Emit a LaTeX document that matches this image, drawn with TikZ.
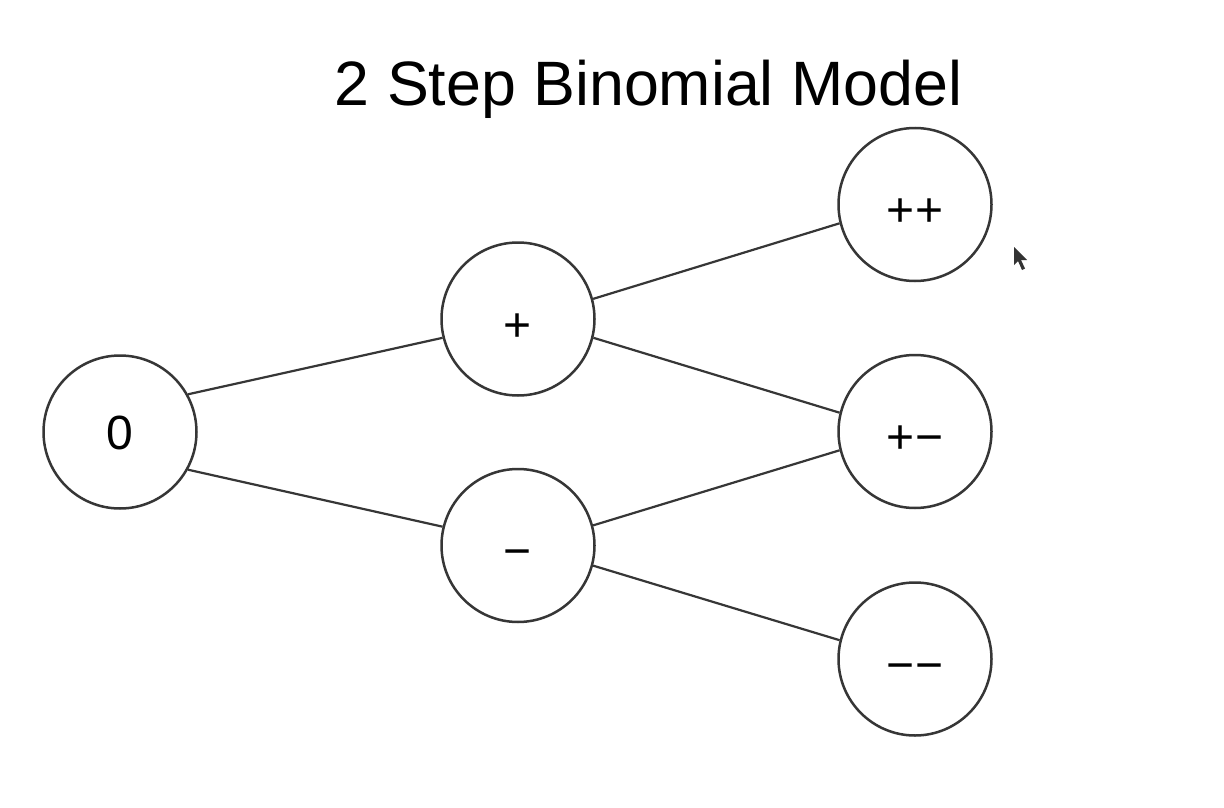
\documentclass[tikz,border=0pt]{standalone}
\usepackage{fontspec}
\setmainfont{Liberation Sans}
\definecolor{inkgray}{HTML}{363636}
\begin{document}
\begin{tikzpicture}[x=1pt,y=-1pt,
  bnode/.style={circle,draw=inkgray,line width=2.5pt,minimum size=153pt,inner sep=0pt,
    font=\fontsize{48}{48}\selectfont,text depth=0pt,text height=44pt},
  digitnode/.style={bnode,text height=34.4pt},
  branch/.style={draw=inkgray,line width=2.2pt}]
  \useasboundingbox (0,0) rectangle (1224,808);
  \fill[white] (0,0) rectangle (1224,808);

  % title
  \node[font=\fontsize{62.7}{62.7}\selectfont,anchor=base] (title) at (648.5,105) {2 Step Binomial Model};

  % tree nodes
  \node[digitnode] (n0)  at (120,432) {0};
  \node[bnode]     (np)  at (518,319) {+};
  \node[bnode]     (nm)  at (518,545.5) {−};
  \node[bnode]     (npp) at (915,204.5) {++};
  \node[bnode]     (npm) at (915,431.5) {+−};
  \node[bnode]     (nmm) at (915,659) {−−};

  % branches
  \draw[branch] (n0.29)  -- (np.194);
  \draw[branch] (n0.-29) -- (nm.166);
  \draw[branch] (np.15)  -- (npp.194);
  \draw[branch] (np.-14) -- (npm.166);
  \draw[branch] (nm.15)  -- (npm.194);
  \draw[branch] (nm.-15) -- (nmm.166);

  % mouse pointer
  \fill[black!80] (1014,247) -- (1014,265) -- (1018,261) -- (1022,270) -- (1025,268.5)
    -- (1021,260) -- (1027,260) -- cycle;
\end{tikzpicture}
\end{document}
